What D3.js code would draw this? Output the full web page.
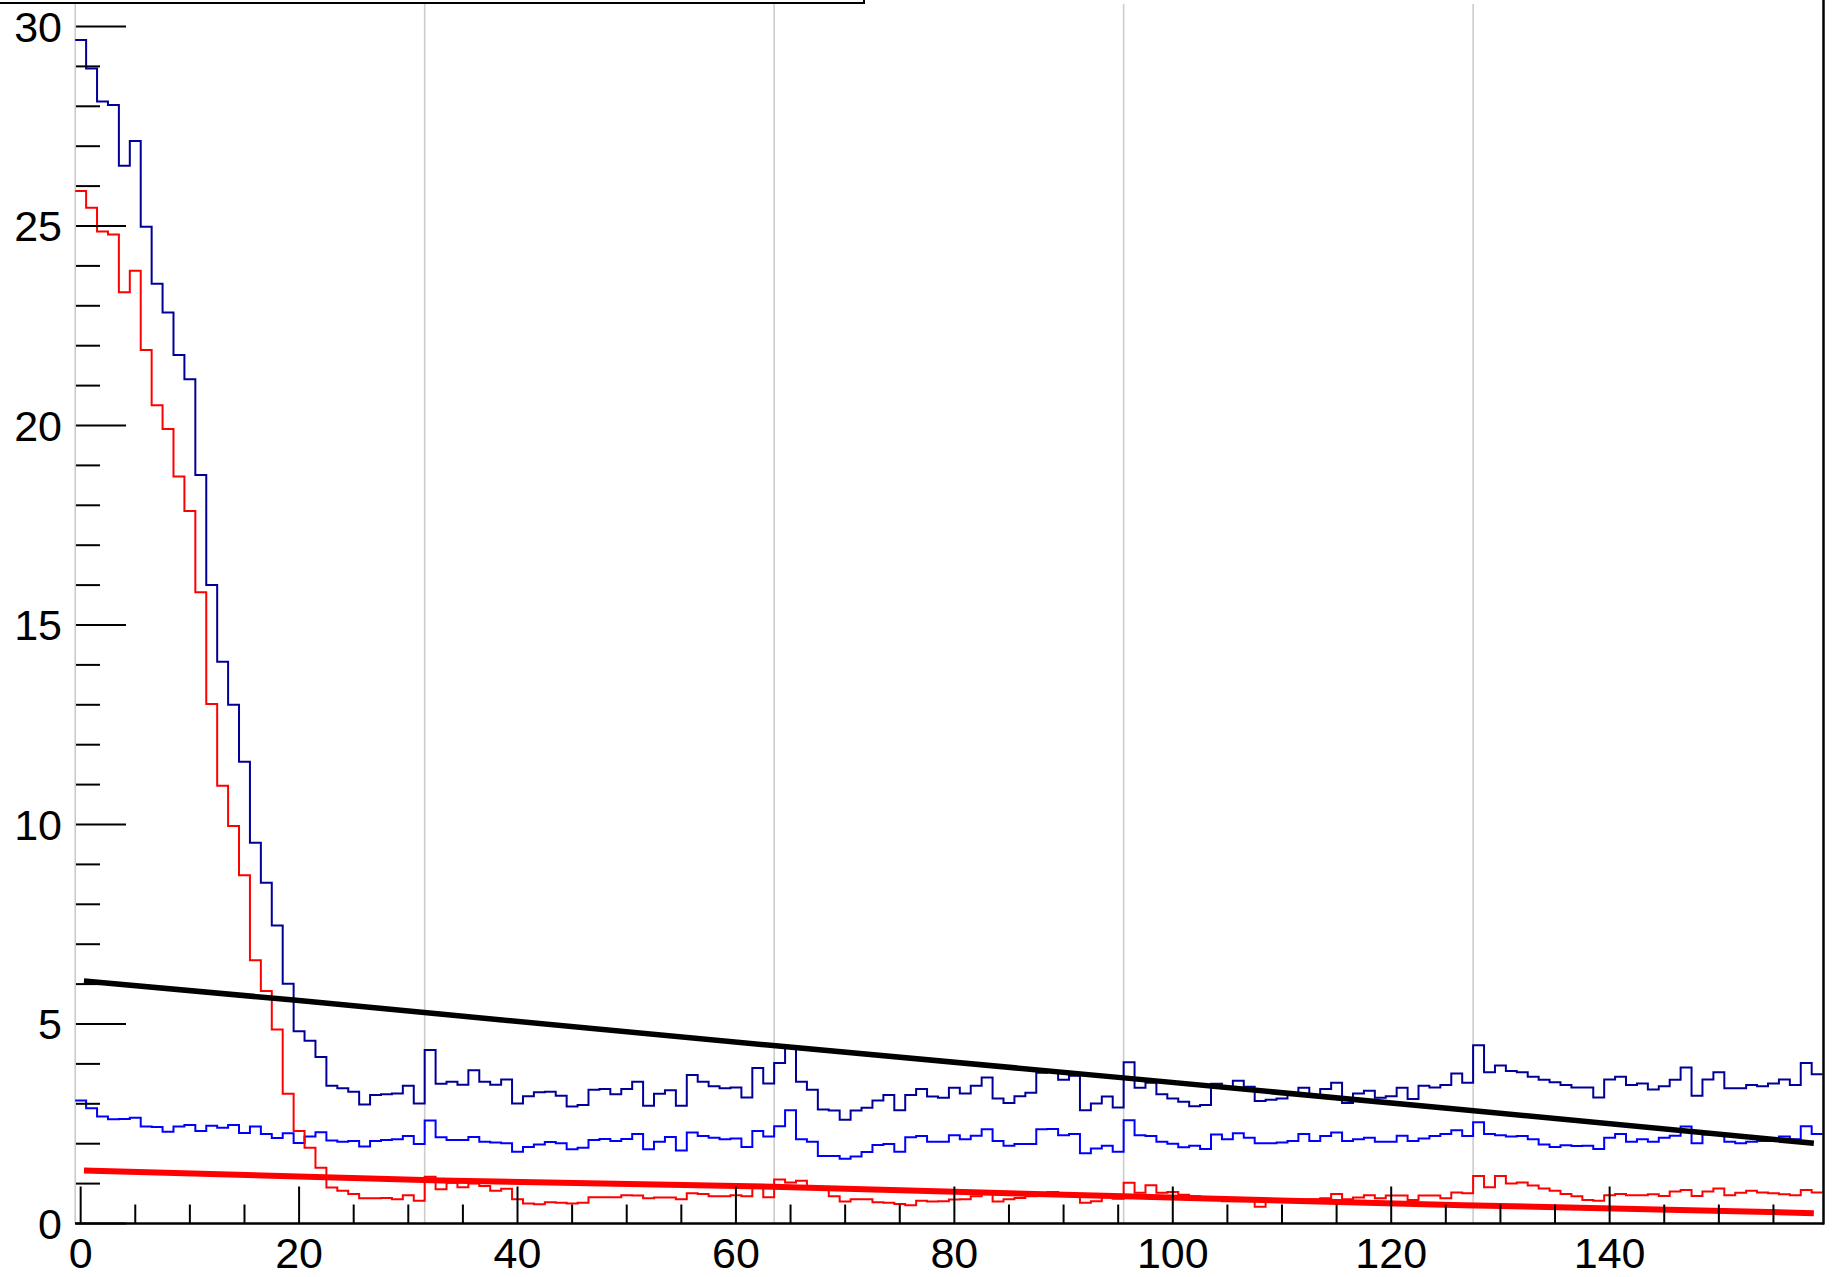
<!DOCTYPE html>
<html>
<head>
<meta charset="utf-8">
<script src="https://cdn.jsdelivr.net/npm/d3@7"></script>
<style>
  html, body { margin: 0; padding: 0; background: #fff; }
  svg { display: block; }
  text { font-family: "Liberation Sans", Arial, sans-serif; }
</style>
</head>
<body>
<svg id="chart" width="1838" height="1277"></svg>
<script>
// ---- data (bin i covers [i-0.5, i+0.5]) ----
const darkBlue = [29.66,28.95,28.12,28.03,26.51,27.13,24.98,23.55,22.83,21.77,
  21.16,18.76,16.00,14.08,13.00,11.57,9.54,8.54,7.47,6.01,
  4.82,4.58,4.17,3.45,3.39,3.30,2.98,3.22,3.24,3.26,
  3.45,3.01,4.35,3.50,3.55,3.48,3.84,3.55,3.48,3.61,
  3.01,3.19,3.29,3.30,3.20,2.93,2.97,3.35,3.37,3.24,
  3.37,3.55,2.95,3.25,3.34,2.95,3.72,3.55,3.44,3.39,
  3.41,3.16,3.90,3.51,4.02,4.41,3.55,3.35,2.86,2.83,
  2.60,2.83,2.90,3.08,3.22,2.84,3.22,3.37,3.18,3.15,
  3.40,3.26,3.45,3.66,3.13,3.02,3.19,3.28,3.78,3.80,
  3.60,3.70,2.84,3.01,3.18,2.91,4.04,3.40,3.53,3.24,
  3.13,3.05,2.94,2.97,3.50,3.39,3.58,3.43,3.07,3.10,
  3.13,3.23,3.40,3.18,3.37,3.53,3.02,3.26,3.33,3.15,
  3.19,3.40,3.12,3.45,3.41,3.47,3.76,3.53,4.47,3.79,
  3.96,3.82,3.79,3.68,3.60,3.54,3.47,3.41,3.41,3.16,
  3.61,3.68,3.47,3.51,3.36,3.44,3.60,3.91,3.20,3.61,
  3.79,3.39,3.39,3.47,3.44,3.51,3.61,3.47,4.02,3.74];

const lightBlue = [3.08,2.89,2.68,2.61,2.62,2.65,2.43,2.42,2.30,2.43,
  2.47,2.32,2.45,2.40,2.47,2.27,2.43,2.24,2.14,2.26,
  2.02,2.18,2.29,2.08,2.05,2.07,1.93,2.07,2.09,2.11,
  2.19,1.99,2.58,2.16,2.09,2.09,2.17,2.05,2.03,2.01,
  1.80,1.92,1.98,2.04,2.01,1.86,1.90,2.09,2.12,2.07,
  2.12,2.24,1.86,2.05,2.17,1.83,2.28,2.19,2.15,2.11,
  2.13,1.92,2.32,2.18,2.44,2.84,2.11,2.05,1.69,1.69,
  1.62,1.68,1.79,1.97,1.99,1.80,2.16,2.19,2.05,2.05,
  2.21,2.11,2.20,2.36,2.07,1.95,1.99,1.99,2.36,2.37,
  2.21,2.24,1.76,1.88,1.95,1.80,2.59,2.21,2.19,2.05,
  2.00,1.91,1.95,1.87,2.23,2.11,2.26,2.15,2.01,2.01,
  2.03,2.07,2.24,2.07,2.19,2.28,2.07,2.11,2.15,2.05,
  2.05,2.20,2.07,2.13,2.19,2.24,2.34,2.19,2.54,2.24,
  2.21,2.18,2.19,2.11,1.98,1.92,1.96,1.94,1.95,1.87,
  2.15,2.24,2.05,2.11,2.05,2.15,2.20,2.43,2.01,2.23,
  2.26,2.05,2.01,2.05,2.07,2.07,2.18,2.11,2.44,2.24];

const redHist = [25.88,25.46,24.86,24.79,23.34,23.88,21.89,20.51,19.91,18.72,
  17.86,15.82,13.02,10.97,9.96,8.73,6.60,5.83,4.86,3.25,
  2.32,1.90,1.40,0.90,0.82,0.74,0.63,0.63,0.64,0.61,
  0.71,0.57,1.17,0.86,1.02,0.91,1.00,0.94,0.82,0.87,
  0.61,0.50,0.48,0.53,0.52,0.50,0.52,0.66,0.66,0.66,
  0.71,0.70,0.63,0.65,0.65,0.61,0.76,0.74,0.68,0.68,
  0.71,0.68,0.92,0.66,1.10,1.03,1.07,0.93,0.90,0.68,
  0.55,0.61,0.61,0.53,0.52,0.49,0.46,0.57,0.55,0.56,
  0.60,0.61,0.68,0.76,0.55,0.61,0.64,0.68,0.76,0.79,
  0.72,0.72,0.52,0.56,0.66,0.62,1.02,0.77,0.96,0.77,
  0.79,0.72,0.68,0.66,0.62,0.56,0.56,0.56,0.42,0.58,
  0.59,0.60,0.60,0.61,0.63,0.74,0.61,0.65,0.71,0.63,
  0.70,0.70,0.59,0.70,0.70,0.63,0.78,0.76,1.19,0.91,
  1.19,1.00,1.03,0.95,0.88,0.82,0.74,0.68,0.59,0.57,
  0.71,0.74,0.71,0.71,0.73,0.69,0.80,0.84,0.69,0.80,
  0.88,0.71,0.77,0.82,0.78,0.76,0.73,0.71,0.84,0.78];

// fitted curves
const blackFitX = [0.3, 19.5, 32.9, 63.4, 95.5, 126.6, 158.7];
const blackFitY = [6.08, 5.60, 5.25, 4.46, 3.65, 2.85, 2.01];
const redFitX   = [0.3, 33.0, 63.4, 95.5, 126.6, 158.7];
const redFitY   = [1.33, 1.08, 0.92, 0.68, 0.46, 0.26];

const gridX = [-0.5, 31.5, 63.5, 95.5, 127.5];
const yTickLabels = [0, 5, 10, 15, 20, 25, 30];
const xTickLabels = [0, 20, 40, 60, 80, 100, 120, 140];

// ---- drawing ----
const svg = d3.select("#chart");
const x = d3.scaleLinear().domain([-0.5, 159.5]).range([75.2, 1822.6]);
const y = d3.scaleLinear().domain([0, 30]).range([1223.5, 26.5]);
const yBottom = y(0), yTop = 0;

// grid
svg.append("g").selectAll("line").data(gridX).join("line")
  .attr("x1", d => x(d)).attr("x2", d => x(d))
  .attr("y1", 4).attr("y2", yBottom)
  .attr("stroke", "#cccccc").attr("stroke-width", 1.6);

function stepPoints(vals) {
  const pts = [];
  vals.forEach((v, i) => { pts.push([i - 0.5, v]); pts.push([i + 0.5, v]); });
  return pts;
}
const line = d3.line().x(d => x(d[0])).y(d => y(d[1]));

const hists = [
  {vals: darkBlue, color: "#000099"},
  {vals: lightBlue, color: "#0000ff"},
  {vals: redHist, color: "#ff0000"}
];
hists.forEach(h => {
  svg.append("path").attr("d", line(stepPoints(h.vals)))
    .attr("fill", "none").attr("stroke", h.color).attr("stroke-width", 2);
});

// fit lines
svg.append("path").attr("d", line(blackFitX.map((d, i) => [d, blackFitY[i]])))
  .attr("fill", "none").attr("stroke", "#000").attr("stroke-width", 5.5);
svg.append("path").attr("d", line(redFitX.map((d, i) => [d, redFitY[i]])))
  .attr("fill", "none").attr("stroke", "#ff0000").attr("stroke-width", 6);

// y axis ticks (inward)
const yMinor = d3.range(0, 31, 1);
svg.append("g").selectAll("line").data(yMinor).join("line")
  .attr("x1", 76).attr("x2", d => 76 + (d % 5 === 0 ? 50 : 24))
  .attr("y1", d => y(d)).attr("y2", d => y(d))
  .attr("stroke", "#000").attr("stroke-width", 2);
svg.append("g").selectAll("text").data(yTickLabels).join("text")
  .attr("x", 62).attr("y", d => y(d) + 15)
  .attr("text-anchor", "end").attr("font-size", 43).attr("fill", "#000")
  .text(d => d);

// x axis
svg.append("line").attr("x1", 75).attr("x2", 1824)
  .attr("y1", yBottom).attr("y2", yBottom)
  .attr("stroke", "#000").attr("stroke-width", 2.5);
const xMinor = d3.range(0, 160, 5);
svg.append("g").selectAll("line").data(xMinor).join("line")
  .attr("x1", d => x(d)).attr("x2", d => x(d))
  .attr("y1", yBottom).attr("y2", d => yBottom - (d % 20 === 0 ? 37 : 19))
  .attr("stroke", "#000").attr("stroke-width", 2);
svg.append("g").selectAll("text").data(xTickLabels).join("text")
  .attr("x", d => x(d)).attr("y", 1268)
  .attr("text-anchor", "middle").attr("font-size", 43).attr("fill", "#000")
  .text(d => d);

// right frame edge
svg.append("line").attr("x1", 1823.5).attr("x2", 1823.5)
  .attr("y1", yTop).attr("y2", yBottom + 1)
  .attr("stroke", "#000").attr("stroke-width", 2.5);

// legend box (cut off at the top)
svg.append("rect").attr("x", -5).attr("y", -60).attr("width", 869).attr("height", 63)
  .attr("fill", "#fff").attr("stroke", "#000").attr("stroke-width", 2);
</script>
</body>
</html>
